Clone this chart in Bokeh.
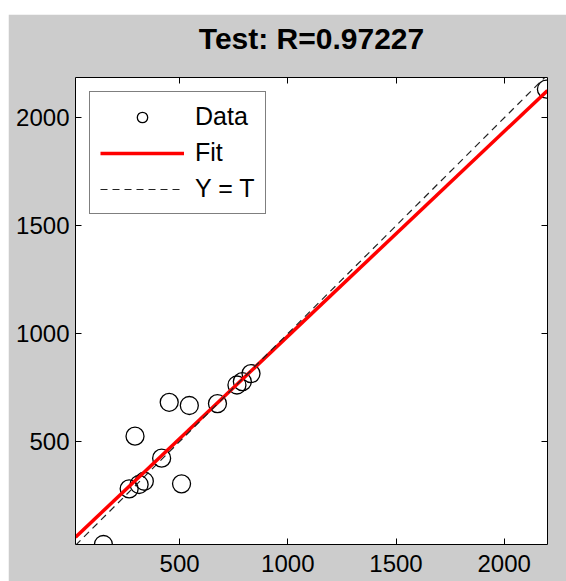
from bokeh.plotting import figure
from bokeh.models import Range1d, FixedTicker, LinearAxis, ColumnDataSource, Spacer
from bokeh.layouts import row, column
from bokeh.embed import file_html
from bokeh.resources import INLINE

# ---- data ----
targets = [148, 267, 294, 313, 337, 417, 452, 509, 545, 675, 765, 790, 830, 2195]
outputs = [23, 281, 525, 301, 316, 423, 682, 304, 667, 676, 762, 778, 815, 2133]
axis_lim = [19, 2200]
y_lim = [23, 2187]
fit_t = [19, 2200]
fit_y = [57, 2127]
tick_values = [500, 1000, 1500, 2000]
title_text = "Test: R=0.97227"

FONT = "Liberation Sans"

p = figure(width=558, height=567, output_backend="svg", toolbar_location=None,
           x_range=Range1d(axis_lim[0], axis_lim[1]),
           y_range=Range1d(y_lim[0], y_lim[1]),
           min_border_left=67, min_border_right=19,
           min_border_top=63, min_border_bottom=37,
           background_fill_color="white", border_fill_color="#cccccc",
           outline_line_color=None)

p.title.text = title_text
p.title.text_font = FONT
p.title.text_font_size = "30px"
p.title.text_font_style = "bold"
p.title.align = "center"
p.title.text_color = "black"
p.title.standoff = 9

p.xgrid.visible = False
p.ygrid.visible = False

top_axis = LinearAxis()
p.add_layout(top_axis, "above")
p.add_layout(LinearAxis(), "right")

for ax in p.axis:
    ax.ticker = FixedTicker(ticks=tick_values)
    ax.major_tick_in = 6
    ax.major_tick_out = 0
    ax.minor_tick_line_color = None
    ax.axis_line_color = "black"
    ax.axis_line_width = 1
    ax.major_tick_line_color = "black"
    ax.major_label_text_font = FONT
    ax.major_label_text_font_size = "24px"
    ax.major_label_text_color = "black"

p.below[0].major_label_standoff = 10
p.left[0].major_label_standoff = 6
for ax in (top_axis, p.right[0]):
    ax.major_label_text_font_size = "1px"
    ax.major_label_text_color = None
    ax.major_label_standoff = 0

# invisible spacer axis that lifts the title away from the frame
gap_axis = LinearAxis(ticker=FixedTicker(ticks=tick_values),
                      major_tick_in=0, major_tick_out=18,
                      major_tick_line_color=None, minor_tick_line_color=None,
                      axis_line_color=None, major_label_text_color=None,
                      major_label_text_font_size="1px", major_label_standoff=0)
p.add_layout(gap_axis, "above")

src = ColumnDataSource(dict(t=targets, y=outputs))
p.scatter("t", "y", source=src, marker="circle", size=18, fill_color=None,
          line_color="black", line_width=1.3, legend_label="Data")
p.line(fit_t, fit_y, line_color="#ff0000", line_width=3.5, legend_label="Fit")
p.line(axis_lim, axis_lim, line_color="#222222", line_width=1.2,
       line_dash="7 5", legend_label="Y = T")

lg = p.legend[0]
lg.location = "top_left"
lg.margin = 14
lg.padding = 10
lg.spacing = 7
lg.glyph_width = 84
lg.glyph_height = 26
lg.label_height = 26
lg.label_standoff = 11
lg.label_text_font = FONT
lg.label_text_font_size = "25px"
lg.label_text_color = "black"
lg.border_line_color = "black"
lg.border_line_width = 1
lg.background_fill_color = "white"
lg.background_fill_alpha = 1

layout = row(Spacer(width=8, height=581),
             column(Spacer(width=558, height=14), p))

open("out.html", "w").write(file_html(layout, INLINE))
